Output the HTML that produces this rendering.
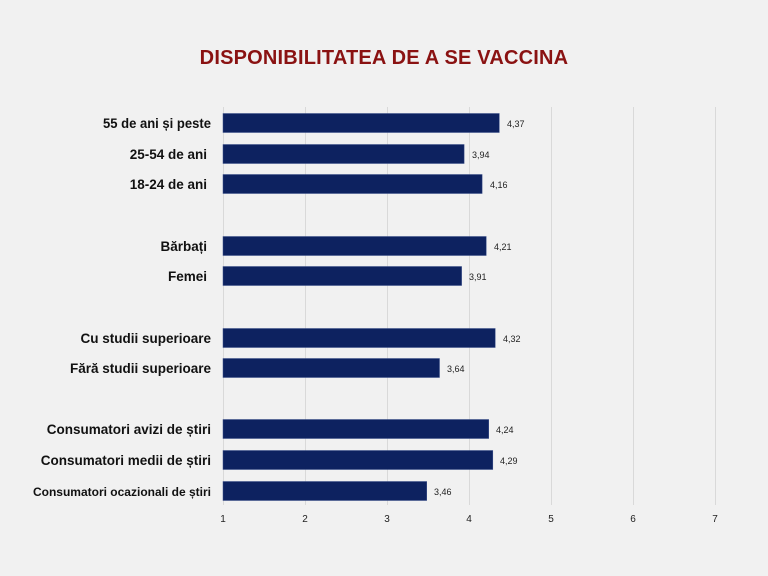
<!DOCTYPE html>
<html><head><meta charset="utf-8"><style>
html,body{margin:0;padding:0;background:#f1f1f1;overflow:hidden;width:768px;height:576px;}
svg{display:block;}
</style></head><body>
<svg width="768" height="576" xmlns="http://www.w3.org/2000/svg" font-family="Liberation Sans, DejaVu Sans, sans-serif">
<rect width="768" height="576" fill="#f1f1f1"/>
<text x="384" y="64" text-anchor="middle" font-size="20" font-weight="bold" fill="#8a1212" letter-spacing="0.2">DISPONIBILITATEA DE A SE VACCINA</text>
<g stroke="#d9d9d9" stroke-width="1">
<line x1="223.5" y1="107" x2="223.5" y2="505"/>
<line x1="305.5" y1="107" x2="305.5" y2="505"/>
<line x1="387.5" y1="107" x2="387.5" y2="505"/>
<line x1="469.5" y1="107" x2="469.5" y2="505"/>
<line x1="551.5" y1="107" x2="551.5" y2="505"/>
<line x1="633.5" y1="107" x2="633.5" y2="505"/>
<line x1="715.5" y1="107" x2="715.5" y2="505"/>
</g>
<g font-size="10" fill="#222" text-anchor="middle">
<text x="223" y="522">1</text><text x="305" y="522">2</text><text x="387" y="522">3</text><text x="469" y="522">4</text><text x="551" y="522">5</text><text x="633" y="522">6</text><text x="715" y="522">7</text>
</g>
<g fill="#0d2260" stroke="#3a4f8a" stroke-width="0.5">
<rect x="223" y="113.5" width="276.3" height="19"/>
<rect x="223" y="144.5" width="241.1" height="19"/>
<rect x="223" y="174.5" width="259.1" height="19"/>
<rect x="223" y="236.5" width="263.2" height="19"/>
<rect x="223" y="266.5" width="238.6" height="19"/>
<rect x="223" y="328.5" width="272.2" height="19"/>
<rect x="223" y="358.5" width="216.5" height="19"/>
<rect x="223" y="419.5" width="265.7" height="19"/>
<rect x="223" y="450.5" width="269.8" height="19"/>
<rect x="223" y="481.5" width="203.7" height="19"/>
</g>
<g font-size="9" fill="#222">
<text x="507" y="127">4,37</text>
<text x="472" y="158">3,94</text>
<text x="490" y="188">4,16</text>
<text x="494" y="250">4,21</text>
<text x="469" y="280">3,91</text>
<text x="503" y="342">4,32</text>
<text x="447" y="372">3,64</text>
<text x="496" y="433">4,24</text>
<text x="500" y="464">4,29</text>
<text x="434" y="495">3,46</text>
</g>
<g font-weight="bold" fill="#111" text-anchor="end" font-size="13.5">
<text x="211" y="128" textLength="108" lengthAdjust="spacingAndGlyphs">55 de ani și peste</text>
<text x="207" y="159">25-54 de ani</text>
<text x="207" y="189">18-24 de ani</text>
<text x="207" y="251">Bărbați</text>
<text x="207" y="281">Femei</text>
<text x="211" y="343">Cu studii superioare</text>
<text x="211" y="373">Fără studii superioare</text>
<text x="211" y="434">Consumatori avizi de știri</text>
<text x="211" y="465">Consumatori medii de știri</text>
<text x="211" y="496" font-size="12">Consumatori ocazionali de știri</text>
</g>
</svg>
</body></html>
